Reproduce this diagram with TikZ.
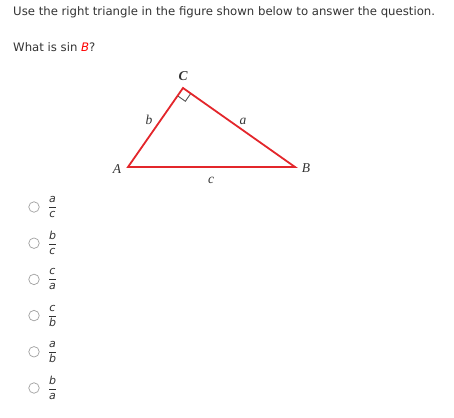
\documentclass[tikz,border=0pt]{standalone}
\usepackage{fontspec}
\setmainfont{DejaVu Sans}
\newfontfamily\trifont{Liberation Serif}
\usetikzlibrary{positioning,calc}
\definecolor{txtgray}{HTML}{333333}
\definecolor{trired}{HTML}{E3262B}
\definecolor{markgray}{HTML}{555555}

\begin{document}
\begin{tikzpicture}[x=1pt,y=-1pt,
    qtext/.style={anchor=base west, text=txtgray, inner sep=0pt, font=\fontsize{11.7}{14}\selectfont},
    vlabel/.style={font=\trifont\itshape\fontsize{13.5}{15}\selectfont, text=txtgray, inner sep=0pt},
    side/.style={draw=trired, line width=1.8pt, line join=miter},
    radio/.style={circle, draw=gray!75, line width=0.7pt, minimum size=10.5pt, inner sep=0pt},
    choice/.style={anchor=west, text=txtgray, inner sep=0pt, font=\fontsize{11}{13}\selectfont}
]
\useasboundingbox (0,0) rectangle (454,417);

% Question
\node[qtext] (intro) at (13,16) {Use the right triangle in the figure shown below to answer the question.};
\node[qtext] (ask) at (13,52) {What is sin \textcolor{red}{\textit{B}}?};

% Triangle
\coordinate (A) at (128,167);
\coordinate (C) at (183,88);
\coordinate (B) at (295,167);
\draw[markgray, line width=0.9pt]
  ($(C)!9.5pt!(A)$) -- ($($(C)!9.5pt!(A)$)+($(C)!9.5pt!(B)$)-(C)$) -- ($(C)!9.5pt!(B)$);
\draw[side] (A) -- (C) -- (B) -- cycle;

\node[vlabel, font=\trifont\bfseries\itshape\fontsize{13.5}{15}\selectfont] (lC) at (183,76) {C};
\node[vlabel] (lA) at (117,169) {A};
\node[vlabel] (lB) at (306,168) {B};
\node[vlabel] (lb) at (149,120) {b};
\node[vlabel] (la) at (243,121) {a};
\node[vlabel] (lc) at (211,180) {c};

% Choices
\foreach \num/\den [count=\i] in {a/c, b/c, c/a, c/b, a/b, b/a} {
  \node[radio] (r\i) at (34,{207+36.2*(\i-1)}) {};
  \node[choice, right=8pt of r\i] (f\i) {$\displaystyle\frac{\textit{\num}}{\textit{\den}}$};
}
\end{tikzpicture}
\end{document}
